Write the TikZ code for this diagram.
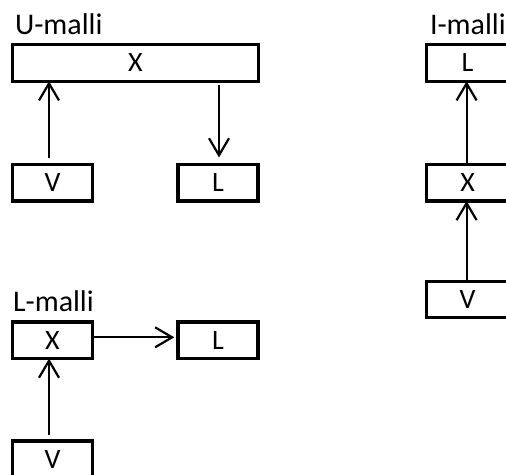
\documentclass[tikz,border=0pt]{standalone}
\usepackage{fontspec}
\setmainfont{Carlito}
\usetikzlibrary{arrows.meta,calc}
\begin{document}
\begin{tikzpicture}[x=1pt,y=-1pt,
  box/.style={draw,line width=3.2pt,inner sep=0pt,outer sep=0pt,minimum height=36.5pt,
    font=\fontsize{28}{32}\selectfont},
  small/.style={box,minimum width=80pt},
  lbl/.style={anchor=base west,inner sep=0pt,outer sep=0pt,font=\fontsize{30}{34}\selectfont},
  arr/.style={line width=2.2pt,-{Straight Barb[length=17pt,width=20pt,line width=2.2pt]}}]
\useasboundingbox (0,0) rectangle (506,474);
\clip (0,0) rectangle (506,474);
% U-malli
\node[lbl] (ut) at (15,34) {U-malli};
\node[box,minimum width=245.6pt] (ux) at (135.5,63) {X};
\node[small] (uv) at (52.5,182.7) {V};
\node[small] (ul) at (218,182.7) {L};
\draw[arr] ($(uv.north)+(-3.5,-6)$) -- ($(uv.north |- ux.south)+(-3.5,0)$);
\draw[arr] ($(ul.north |- ux.south)+(1,4)$) -- ($(ul.north)+(1,-7)$);
% I-malli
\node[lbl] (it) at (430,34) {I-malli};
\node[box,minimum width=81.8pt] (il) at (467.6,63) {L};
\node[box,minimum width=81.8pt] (ix) at (467.6,182.7) {X};
\node[box,minimum width=81.8pt] (iv) at (467.6,299.5) {V};
\draw[arr] ($(ix.north)+(-1,0)$) -- ($(il.south)+(-1,0)$);
\draw[arr] ($(iv.north)+(-1,0)$) -- ($(ix.south)+(-1,0)$);
% L-malli
\node[lbl] (lt) at (13,311) {L-malli};
\node[small] (lx) at (52.5,340.3) {X};
\node[small] (ll) at (218,340.3) {L};
\node[small] (lv) at (52.5,459.3) {V};
\draw[arr] ($(lx.east)+(0,-3)$) -- ($(ll.west)+(-3.7,-3)$);
\draw[arr] ($(lv.north)+(-3.5,-6)$) -- ($(lv.north |- lx.south)+(-3.5,0)$);
\end{tikzpicture}
\end{document}
